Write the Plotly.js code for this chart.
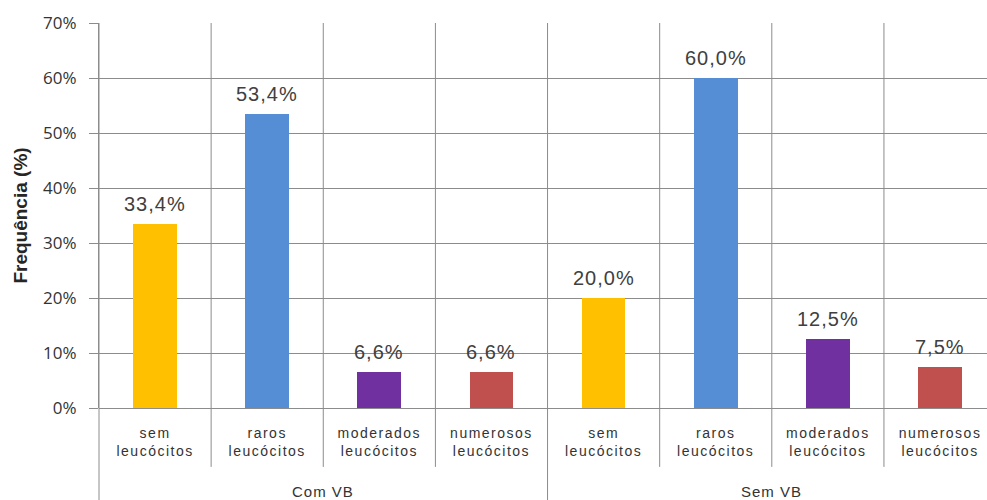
<!DOCTYPE html>
<html>
<head>
<meta charset="utf-8">
<script src="https://cdn.plot.ly/plotly-3.0.1.min.js"></script>
<style>
  html, body { margin: 0; padding: 0; background: #fff; }
  #chart { width: 987px; height: 500px; }
  .xtick text { letter-spacing: 1.5px; }
  .annotation-text { letter-spacing: 1px; }
</style>
</head>
<body>
<div id="chart"></div>
<script>
// ---- data ----
const categories = ['sem<br>leucócitos', 'raros<br>leucócitos', 'moderados<br>leucócitos', 'numerosos<br>leucócitos'];
const groups = ['Com VB', 'Sem VB'];
const comVB = [33.4, 53.4, 6.6, 6.6];
const semVB = [20.0, 60.0, 12.5, 7.5];
const yTicks = [0, 10, 20, 30, 40, 50, 60, 70];

// ---- styling ----
const colors = ['#FFC000', '#558ED5', '#7030A0', '#C0504D'];
const gridColor = '#8c8c8c';
const nCat = categories.length * groups.length;
const xMax = 7.419;

const fmt = v => v.toFixed(1).replace('.', ',') + '%';
const series = [comVB, semVB];

const traces = series.map((vals, g) => ({
  type: 'bar',
  x: vals.map((_, i) => g * categories.length + i),
  y: vals,
  marker: { color: colors, line: { width: 0 } },
  width: 0.39,
  hoverinfo: 'none',
  showlegend: false
}));

const shapes = [];
shapes.push({ type: 'line', xref: 'paper', yref: 'paper', x0: 0, x1: 0, y0: 1, y1: -0.24,
  line: { color: gridColor, width: 1 } });
for (let k = 1; k < nCat; k++) {
  const isGroup = (k % categories.length === 0);
  shapes.push({ type: 'line', xref: 'x', yref: 'paper', x0: k - 0.5, x1: k - 0.5, y0: 1,
    y1: isGroup ? -0.24 : -0.153, line: { color: gridColor, width: 1 } });
}

const annotations = groups.map((g, i) => ({
  text: g, xref: 'x', yref: 'paper',
  x: i * categories.length + (categories.length - 1) / 2,
  y: -0.2156, yanchor: 'middle', xanchor: 'center', showarrow: false,
  font: { family: 'Liberation Sans, Arial, sans-serif', size: 15, color: '#333333' }
}));

// value labels above bars
series.forEach((vals, g) => {
  vals.forEach((v, i) => {
    annotations.push({
      text: fmt(v), xref: 'x', yref: 'y',
      x: g * categories.length + i, y: v,
      xanchor: 'center', yanchor: 'bottom', yshift: 7, showarrow: false,
      font: { family: 'Liberation Sans, Arial, sans-serif', size: 20, color: '#404040' }
    });
  });
});

const layout = {
  width: 987, height: 500,
  margin: { l: 99, r: 0, t: 23, b: 92 },
  paper_bgcolor: '#ffffff', plot_bgcolor: '#ffffff',
  bargap: 0,
  xaxis: {
    range: [-0.5, xMax],
    tickmode: 'array',
    tickvals: [0, 1, 2, 3, 4, 5, 6, 7],
    ticktext: categories.concat(categories),
    showgrid: false, zeroline: false, showline: false, ticks: '',
    ticklabelstandoff: 15,
    tickfont: { family: 'Liberation Sans, Arial, sans-serif', size: 14, color: '#333333' },
    fixedrange: true
  },
  yaxis: {
    range: [0, 70],
    tickmode: 'array',
    tickvals: yTicks,
    ticktext: yTicks.map(v => v + '%'),
    showgrid: true, gridcolor: gridColor, gridwidth: 1,
    zeroline: true, zerolinecolor: gridColor, zerolinewidth: 1,
    showline: true, linecolor: gridColor, linewidth: 1,
    ticks: 'outside', ticklen: 9, tickcolor: gridColor, tickwidth: 1,
    ticklabelstandoff: 9,
    tickfont: { family: 'Open Sans, sans-serif', size: 17, color: '#333333' },
    title: { text: 'Frequência (%)', standoff: 10,
      font: { family: 'Liberation Sans, Arial, sans-serif', size: 19, color: '#262626', weight: 'bold' } },
    fixedrange: true
  },
  shapes: shapes,
  annotations: annotations
};

Plotly.newPlot('chart', traces, layout, { displayModeBar: false, staticPlot: true });
</script>
</body>
</html>
